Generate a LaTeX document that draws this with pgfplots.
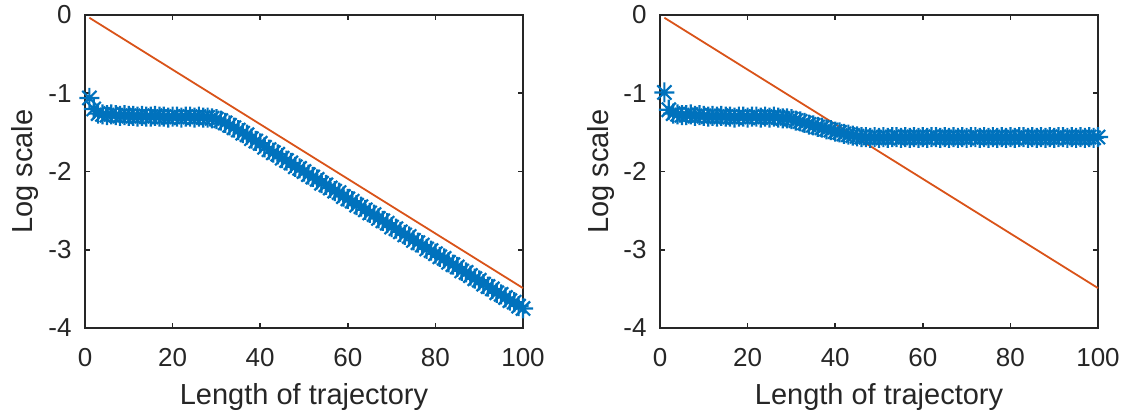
\documentclass[border=0pt]{standalone}
\usepackage{pgfplots}
\pgfplotsset{compat=1.18}
\usepackage{fontspec}
\setmainfont{Liberation Sans}
\definecolor{mblue}{rgb}{0,0.447,0.741}
\definecolor{morange}{rgb}{0.85,0.325,0.098}
\definecolor{maxis}{rgb}{0.15,0.15,0.15}
\pgfdeclareplotmark{mstar}{%
  \pgfpathmoveto{\pgfqpoint{-\pgfplotmarksize}{0pt}}\pgfpathlineto{\pgfqpoint{\pgfplotmarksize}{0pt}}%
  \pgfpathmoveto{\pgfqpoint{0pt}{-\pgfplotmarksize}}\pgfpathlineto{\pgfqpoint{0pt}{\pgfplotmarksize}}%
  \pgfpathmoveto{\pgfqpoint{-.7071\pgfplotmarksize}{-.7071\pgfplotmarksize}}\pgfpathlineto{\pgfqpoint{.7071\pgfplotmarksize}{.7071\pgfplotmarksize}}%
  \pgfpathmoveto{\pgfqpoint{-.7071\pgfplotmarksize}{.7071\pgfplotmarksize}}\pgfpathlineto{\pgfqpoint{.7071\pgfplotmarksize}{-.7071\pgfplotmarksize}}%
  \pgfusepathqstroke}
\pgfplotstableread{
x y
1 -1.06
2 -1.20
3 -1.26
4 -1.27
5 -1.28
6 -1.27
7 -1.28
8 -1.29
9 -1.28
10 -1.29
11 -1.29
12 -1.30
13 -1.29
14 -1.30
15 -1.30
16 -1.29
17 -1.30
18 -1.30
19 -1.31
20 -1.30
21 -1.30
22 -1.31
23 -1.30
24 -1.30
25 -1.31
26 -1.30
27 -1.31
28 -1.31
29 -1.32
30 -1.33
31 -1.35
32 -1.38
33 -1.41
34 -1.44
35 -1.47
36 -1.51
37 -1.53
38 -1.58
39 -1.61
40 -1.64
41 -1.69
42 -1.72
43 -1.76
44 -1.78
45 -1.83
46 -1.86
47 -1.89
48 -1.94
49 -1.96
50 -2.00
51 -2.04
52 -2.07
53 -2.10
54 -2.15
55 -2.17
56 -2.21
57 -2.25
58 -2.27
59 -2.32
60 -2.35
61 -2.38
62 -2.43
63 -2.45
64 -2.49
65 -2.53
66 -2.55
67 -2.60
68 -2.63
69 -2.66
70 -2.71
71 -2.73
72 -2.77
73 -2.81
74 -2.83
75 -2.88
76 -2.91
77 -2.94
78 -2.99
79 -3.01
80 -3.05
81 -3.09
82 -3.11
83 -3.16
84 -3.19
85 -3.22
86 -3.27
87 -3.29
88 -3.33
89 -3.37
90 -3.39
91 -3.44
92 -3.47
93 -3.50
94 -3.55
95 -3.57
96 -3.61
97 -3.65
98 -3.67
99 -3.72
100 -3.75
}\lefttab
\pgfplotstableread{
x y
1 -0.99
2 -1.21
3 -1.26
4 -1.27
5 -1.28
6 -1.28
7 -1.27
8 -1.29
9 -1.28
10 -1.29
11 -1.30
12 -1.29
13 -1.30
14 -1.29
15 -1.30
16 -1.30
17 -1.31
18 -1.30
19 -1.30
20 -1.31
21 -1.30
22 -1.30
23 -1.31
24 -1.30
25 -1.31
26 -1.30
27 -1.31
28 -1.32
29 -1.32
30 -1.33
31 -1.35
32 -1.36
33 -1.38
34 -1.40
35 -1.41
36 -1.43
37 -1.44
38 -1.46
39 -1.47
40 -1.49
41 -1.50
42 -1.52
43 -1.53
44 -1.54
45 -1.55
46 -1.56
47 -1.56
48 -1.57
49 -1.56
50 -1.57
51 -1.56
52 -1.57
53 -1.56
54 -1.56
55 -1.57
56 -1.56
57 -1.57
58 -1.56
59 -1.57
60 -1.56
61 -1.57
62 -1.56
63 -1.56
64 -1.57
65 -1.56
66 -1.57
67 -1.56
68 -1.57
69 -1.56
70 -1.57
71 -1.56
72 -1.56
73 -1.57
74 -1.56
75 -1.57
76 -1.56
77 -1.57
78 -1.56
79 -1.57
80 -1.56
81 -1.57
82 -1.56
83 -1.56
84 -1.57
85 -1.56
86 -1.57
87 -1.56
88 -1.57
89 -1.56
90 -1.57
91 -1.56
92 -1.56
93 -1.57
94 -1.56
95 -1.57
96 -1.56
97 -1.57
98 -1.56
99 -1.57
100 -1.56
}\righttab
\pgfplotsset{
  mstyle/.style={
    scale only axis, width=219pt, height=156.5pt,
    xmin=0, xmax=100, ymin=-4, ymax=0,
    xtick={0,20,...,100}, ytick={-4,-3,...,0},
    tick align=inside, major tick length=2.5pt,
    axis line style={maxis, line width=0.8pt},
    every tick/.style={maxis, line width=0.8pt},
    /pgf/number format/assume math mode=true,
    ticklabel style={font=\fontsize{13}{15}\selectfont, text=maxis},
    xticklabel style={inner sep=0pt, anchor=north, yshift=-10pt},
    yticklabel style={inner sep=0pt, anchor=east, xshift=-6.5pt},
    label style={font=\fontsize{14.5}{17}\selectfont, text=maxis},
    xlabel={Length of trajectory},
    ylabel={Log scale},
    xlabel style={at={(rel axis cs:0.5,0)}, anchor=base, yshift=-38pt, inner sep=0pt},
    ylabel style={at={(rel axis cs:0,0.5)}, anchor=base, yshift=26pt, inner sep=0pt},
    clip=false,
  }
}
\begin{document}
\begin{tikzpicture}
\useasboundingbox (0,0) rectangle (563.5pt,207pt);
\begin{axis}[mstyle, at={(42.5pt,43pt)}, anchor=south west]
\addplot[morange, line width=0.9pt] coordinates {(1,-0.035) (100,-3.49)};
\addplot[mblue, only marks, mark=mstar, mark size=5pt, mark options={line width=1.1pt}] table[x=x,y=y] {\lefttab};
\end{axis}
\begin{axis}[mstyle, at={(330pt,43pt)}, anchor=south west]
\addplot[morange, line width=0.9pt] coordinates {(1,-0.035) (100,-3.49)};
\addplot[mblue, only marks, mark=mstar, mark size=5pt, mark options={line width=1.1pt}] table[x=x,y=y] {\righttab};
\end{axis}
\end{tikzpicture}
\end{document}
